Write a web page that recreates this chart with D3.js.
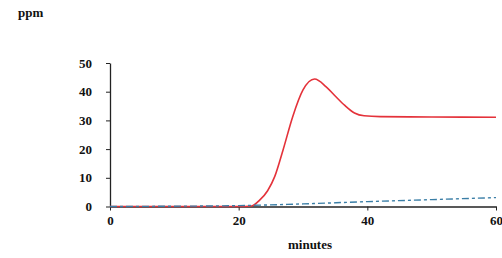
<!DOCTYPE html>
<html>
<head>
<meta charset="utf-8">
<script src="https://cdn.jsdelivr.net/npm/d3@7"></script>
<style>
  body { margin: 0; background: #fff; }
  text { font-family: "Liberation Serif", "DejaVu Serif", serif; font-weight: bold; }
</style>
</head>
<body>
<svg id="chart" width="502" height="258"></svg>
<script>
// red trace: ppm vs minutes
let redTime = [0, 10, 20, 22, 23.3, 24.5, 25.6, 26.9, 28.4, 30, 31.8, 33.6, 35, 36.5, 38, 39.5, 42, 50, 60];
let redPpm  = [0, 0, 0, 0.2, 2.3, 5.5, 10.4, 19.7, 31.3, 40.6, 44.4, 41.7, 38.5, 35.2, 32.6, 31.6, 31.3, 31.2, 31.1];
// blue dashed trace
let blueTime = [0, 10, 20, 30, 40, 50, 60];
let bluePpm  = [0, 0.1, 0.3, 0.9, 1.7, 2.4, 3.1];

let xTicks = [0, 20, 40, 60];
let yTicks = [0, 10, 20, 30, 40, 50];

const svg = d3.select("#chart");

const x = d3.scaleLinear().domain([0, 60]).range([110, 496]);
const y = d3.scaleLinear().domain([0, 50]).range([206.5, 63]);

function styleAxis(g) {
    g.select(".domain").attr("stroke", "#222").attr("stroke-width", 1.3);
    g.selectAll("line").attr("stroke", "#222");
    g.selectAll("text").attr("font-size", 13).attr("fill", "#111")
        .attr("font-family", "Liberation Serif").attr("font-weight", "bold");
}

// axes
svg.append("g")
    .attr("transform", "translate(0,206.5)")
    .call(d3.axisBottom(x).tickValues(xTicks).tickSize(4).tickPadding(5).tickSizeOuter(0))
    .call(styleAxis);

svg.append("g")
    .attr("transform", "translate(110,0)")
    .call(d3.axisLeft(y).tickValues(yTicks).tickSize(4).tickPadding(14).tickSizeOuter(0))
    .call(styleAxis);

// lines
const line = d3.line().x(d => x(d[0])).y(d => y(d[1])).curve(d3.curveMonotoneX);

svg.append("path")
    .datum(d3.zip(redTime, redPpm))
    .attr("d", line)
    .attr("fill", "none")
    .attr("stroke", "#e4323a")
    .attr("stroke-width", 1.6);

svg.append("path")
    .datum(d3.zip(blueTime, bluePpm))
    .attr("d", line)
    .attr("fill", "none")
    .attr("stroke", "#3a7ea6")
    .attr("stroke-width", 1.4)
    .attr("stroke-dasharray", "7,3,3,3");

// labels
svg.append("text").attr("x", 18).attr("y", 17).attr("font-size", 13).attr("fill", "#111").text("ppm");
svg.append("text").attr("x", 310).attr("y", 249).attr("font-size", 13).attr("fill", "#111")
    .attr("text-anchor", "middle").text("minutes");
</script>
</body>
</html>
